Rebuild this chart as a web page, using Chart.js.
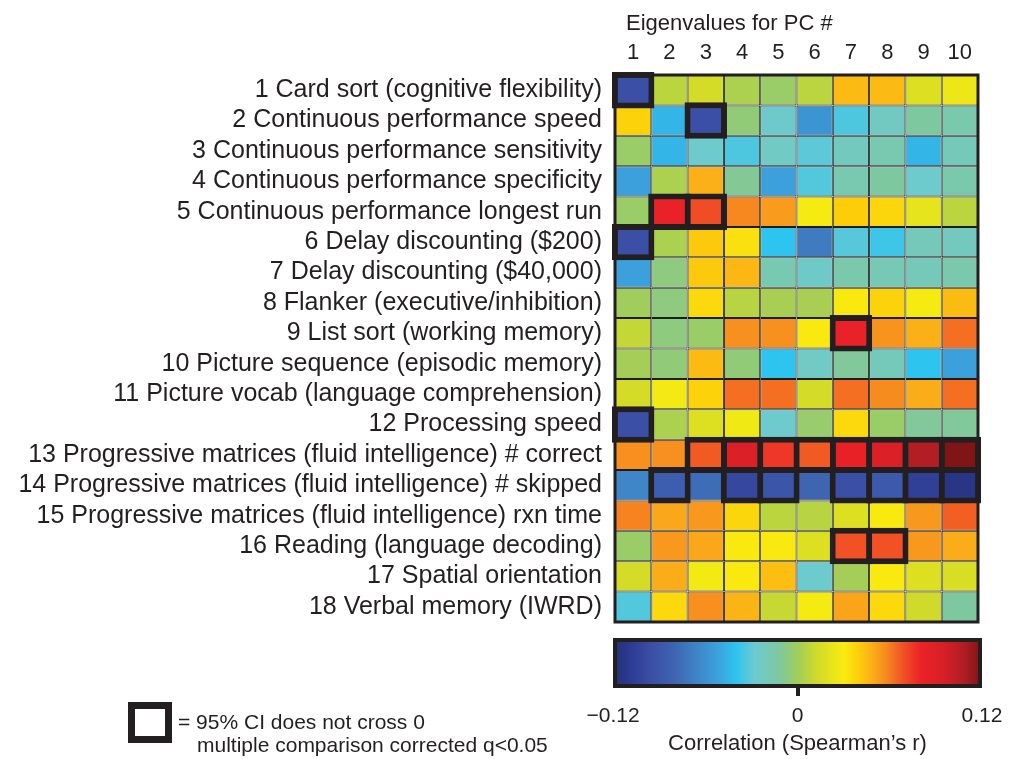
<!DOCTYPE html>
<html>
<head>
<meta charset="utf-8">
<script src="https://cdn.jsdelivr.net/npm/chart.js@4.4.1/dist/chart.umd.min.js"></script>
<style>
  body { margin: 0; background: #fff; font-family: 'Liberation Sans', Arial, sans-serif; color: #231f20; }
  #wrap { position: relative; width: 1018px; height: 759px; overflow: hidden; }
  #mainBox { position: absolute; left: 0; top: 0; width: 1018px; height: 642px; }
  #barBox { position: absolute; left: 0; top: 600px; width: 1018px; height: 159px; }
  .key { position: absolute; left: 128px; top: 702px; width: 44px; height: 41px; box-sizing: border-box; border: 7px solid #231f20; }
  .txt { position: absolute; font-size: 21px; line-height: 22px; white-space: nowrap; }
</style>
</head>
<body>
<div id="wrap">
  <div id="mainBox"><canvas id="heat"></canvas></div>
  <div id="barBox"><canvas id="cbar"></canvas></div>
  <div class="key"></div>
  <div class="txt" style="left:178px; top:711px;">= 95% CI does not cross 0</div>
  <div class="txt" style="left:197px; top:734px;">multiple comparison corrected q&lt;0.05</div>
</div>
<script>
// measures (rows) and principal components (columns)
const measures = [
    '1 Card sort (cognitive flexibility)',
    '2 Continuous performance speed',
    '3 Continuous performance sensitivity',
    '4 Continuous performance specificity',
    '5 Continuous performance longest run',
    '6 Delay discounting ($200)',
    '7 Delay discounting ($40,000)',
    '8 Flanker (executive/inhibition)',
    '9 List sort (working memory)',
    '10 Picture sequence (episodic memory)',
    '11 Picture vocab (language comprehension)',
    '12 Processing speed',
    '13 Progressive matrices (fluid intelligence) # correct',
    '14 Progressive matrices (fluid intelligence) # skipped',
    '15 Progressive matrices (fluid intelligence) rxn time',
    '16 Reading (language decoding)',
    '17 Spatial orientation',
    '18 Verbal memory (IWRD)'
];
const pcLabels = ['1', '2', '3', '4', '5', '6', '7', '8', '9', '10'];

// Spearman r, one row per measure, PC 1..10
const spearmanR = [
    [-0.095, 0.007, 0.014, 0.003, -0.002, 0.007, 0.045, 0.045, 0.018, 0.025],
    [0.038, -0.045, -0.095, -0.005, -0.026, -0.058, -0.034, -0.023, -0.012, -0.016],
    [-0.002, -0.045, -0.027, -0.034, -0.024, -0.031, -0.022, -0.017, -0.045, -0.020],
    [-0.053, 0.003, 0.048, -0.010, -0.053, -0.033, -0.017, -0.012, -0.027, -0.016],
    [-0.002, 0.082, 0.070, 0.058, 0.053, 0.029, 0.040, 0.037, 0.022, 0.007],
    [-0.095, 0.003, 0.041, 0.034, -0.040, -0.070, -0.032, -0.037, -0.021, -0.022],
    [-0.053, -0.006, 0.041, 0.046, -0.018, -0.025, -0.016, -0.019, -0.020, -0.016],
    [0.000, -0.006, 0.036, 0.006, 0.002, 0.002, 0.031, 0.038, 0.029, 0.045],
    [0.009, -0.006, -0.002, 0.056, 0.056, 0.031, 0.082, 0.055, 0.048, 0.063],
    [0.001, -0.005, 0.045, -0.005, -0.040, -0.024, -0.011, -0.021, -0.040, -0.053],
    [0.014, 0.028, 0.038, 0.063, 0.063, 0.014, 0.063, 0.057, 0.049, 0.063],
    [-0.095, 0.003, 0.018, 0.027, -0.027, -0.003, 0.036, -0.002, -0.011, -0.011],
    [0.056, 0.056, 0.067, 0.092, 0.075, 0.067, 0.083, 0.092, 0.107, 0.119],
    [-0.065, -0.084, -0.076, -0.100, -0.090, -0.080, -0.094, -0.088, -0.105, -0.113],
    [0.059, 0.050, 0.054, 0.037, 0.007, 0.006, 0.018, 0.031, 0.054, 0.066],
    [-0.002, 0.054, 0.050, 0.031, 0.031, 0.018, 0.069, 0.069, 0.054, 0.049],
    [0.014, 0.049, 0.028, 0.031, 0.044, -0.027, 0.001, 0.031, 0.018, 0.016],
    [-0.033, 0.036, 0.056, 0.047, 0.010, 0.029, 0.051, 0.036, 0.012, -0.012]
];

// cells whose 95% CI does not cross 0 (measure #, PC #)
const significant = [
    [1, 1], [2, 3], [5, 2], [5, 3], [6, 1], [9, 7], [12, 1],
    [13, 3], [13, 4], [13, 5], [13, 6], [13, 7], [13, 8], [13, 9], [13, 10],
    [14, 2], [14, 4], [14, 5], [14, 7], [14, 8], [14, 9], [14, 10],
    [16, 7], [16, 8]
];

const colorRange = [-0.12, 0.12];
const colorTicks = [-0.12, 0, 0.12];
const colorTickLabels = ['\u22120.12', '0', '0.12'];

// colour map stops (value, colour)
const cmapStops = [
    [-0.120, '#25306f'], [-0.110, '#2b3990'], [-0.095, '#3a4fa5'], [-0.080, '#3e64b2'],
    [-0.065, '#3e86c8'], [-0.050, '#3aa6e0'], [-0.040, '#2ec4f0'], [-0.028, '#6ccad0'],
    [-0.012, '#7ec8a0'], [0.000, '#a0cd5c'], [0.012, '#cfda2a'], [0.030, '#f8ec10'],
    [0.040, '#fdcd0a'], [0.048, '#fbb018'], [0.058, '#f6881f'], [0.068, '#f15524'],
    [0.080, '#ec2227'], [0.095, '#d71f27'], [0.108, '#b01e24'], [0.120, '#7c1416']
];

function hexToRgb(h) {
    return [parseInt(h.slice(1, 3), 16), parseInt(h.slice(3, 5), 16), parseInt(h.slice(5, 7), 16)];
}

function cmap(v) {
    if (v <= cmapStops[0][0]) return cmapStops[0][1];
    for (let i = 1; i < cmapStops.length; i++) {
        if (v <= cmapStops[i][0]) {
            const [v0, c0] = cmapStops[i - 1];
            const [v1, c1] = cmapStops[i];
            const t = (v - v0) / (v1 - v0);
            const a = hexToRgb(c0), b = hexToRgb(c1);
            const m = a.map((x, k) => Math.round(x + (b[k] - x) * t));
            return 'rgb(' + m.join(',') + ')';
        }
    }
    return cmapStops[cmapStops.length - 1][1];
}

const ink = '#231f20';
const fam = "'Liberation Sans', Arial, sans-serif";

// one dataset of cells per PC column
const cellSets = pcLabels.map((pc, c) => ({
    label: 'PC ' + pc,
    data: measures.map(() => [c, c + 1]),
    backgroundColor: spearmanR.map(row => cmap(row[c])),
    borderColor: '#1c1c1c',
    borderWidth: 1,
    borderSkipped: false,
    inflateAmount: 0,
    barPercentage: 1,
    categoryPercentage: 1,
    order: 2
}));

// thick boxes for significant cells, one dataset per column
const boxSets = pcLabels.map((pc, c) => {
    const rows = significant.filter(s => s[1] === c + 1).map(s => s[0] - 1);
    return {
        label: 'sig ' + pc,
        data: measures.map((m, r) => rows.includes(r) ? [c - 0.085, c + 1.085] : null),
        backgroundColor: spearmanR.map(row => cmap(row[c])),
        borderColor: ink,
        borderWidth: 6,
        borderSkipped: false,
        inflateAmount: 0,
        barPercentage: 1.2,
        categoryPercentage: 1,
        clip: false,
        order: 1
    };
}).filter(ds => ds.data.some(d => d !== null));

const framePlugin = {
    id: 'frame',
    afterDatasetsDraw(chart) {
        const a = chart.chartArea;
        const ctx = chart.ctx;
        ctx.save();
        ctx.strokeStyle = ink;
        ctx.lineWidth = 3;
        ctx.strokeRect(a.left, a.top, a.right - a.left, a.bottom - a.top);
        ctx.restore();
    }
};

new Chart(document.getElementById('heat'), {
    type: 'bar',
    data: { labels: measures, datasets: boxSets.concat(cellSets) },
    options: {
        indexAxis: 'y',
        responsive: true,
        maintainAspectRatio: false,
        animation: false,
        grouped: false,
        layout: { padding: { left: 0, right: 40, top: 0, bottom: 10 } },
        plugins: { legend: { display: false }, tooltip: { enabled: false } },
        scales: {
            x: {
                type: 'linear',
                position: 'top',
                min: 0,
                max: 10,
                grid: { display: false },
                border: { display: false },
                afterBuildTicks: axis => { axis.ticks = pcLabels.map((p, i) => ({ value: i + 0.5 })); },
                afterFit: axis => { axis.height = 75; },
                ticks: {
                    autoSkip: false,
                    maxRotation: 0,
                    padding: 1,
                    color: ink,
                    font: { family: fam, size: 22 },
                    callback: (v, i) => pcLabels[i]
                },
                title: {
                    display: true,
                    text: '\u2002Eigenvalues for PC #',
                    align: 'start',
                    color: ink,
                    font: { family: fam, size: 22 },
                    padding: { top: 11, bottom: 0 }
                }
            },
            y: {
                grid: { display: false },
                border: { display: false },
                afterFit: axis => { axis.width = 615; },
                ticks: { autoSkip: false, padding: 5, color: ink, font: { family: fam, size: 25 } }
            }
        }
    },
    plugins: [framePlugin]
});

// colour bar
function barGradient(context) {
    const chart = context.chart;
    const x = chart.scales.x;
    if (!chart.chartArea || !x) return cmap(0);
    const g = chart.ctx.createLinearGradient(x.getPixelForValue(colorRange[0]), 0, x.getPixelForValue(colorRange[1]), 0);
    cmapStops.forEach(s => {
        g.addColorStop((s[0] - colorRange[0]) / (colorRange[1] - colorRange[0]), s[1]);
    });
    return g;
}

new Chart(document.getElementById('cbar'), {
    type: 'bar',
    data: {
        labels: ['r'],
        datasets: [{
            data: [colorRange],
            backgroundColor: barGradient,
            borderColor: ink,
            borderWidth: 4,
            borderSkipped: false,
            inflateAmount: 0,
            barPercentage: 1,
            categoryPercentage: 1
        }]
    },
    options: {
        indexAxis: 'y',
        responsive: true,
        maintainAspectRatio: false,
        animation: false,
        layout: { padding: { left: 613, right: 36, top: 38, bottom: 0 } },
        plugins: { legend: { display: false }, tooltip: { enabled: false } },
        scales: {
            x: {
                type: 'linear',
                min: colorRange[0],
                max: colorRange[1],
                z: 1,
                afterBuildTicks: axis => { axis.ticks = colorTicks.map(v => ({ value: v })); },
                afterFit: axis => { axis.height = 71; },
                grid: {
                    drawOnChartArea: true,
                    tickLength: 8,
                    lineWidth: 4,
                    color: c => (c.tick && c.tick.value === 0) ? ink : 'rgba(0,0,0,0)'
                },
                border: { display: false },
                ticks: {
                    padding: 8,
                    color: ink,
                    font: { family: fam, size: 21 },
                    callback: (v, i) => colorTickLabels[i]
                },
                title: {
                    display: true,
                    text: "Correlation (Spearman\u2019s r)",
                    color: ink,
                    font: { family: fam, size: 22 },
                    padding: { top: 0, bottom: 2 }
                }
            },
            y: { display: false }
        }
    }
});
</script>
</body>
</html>
